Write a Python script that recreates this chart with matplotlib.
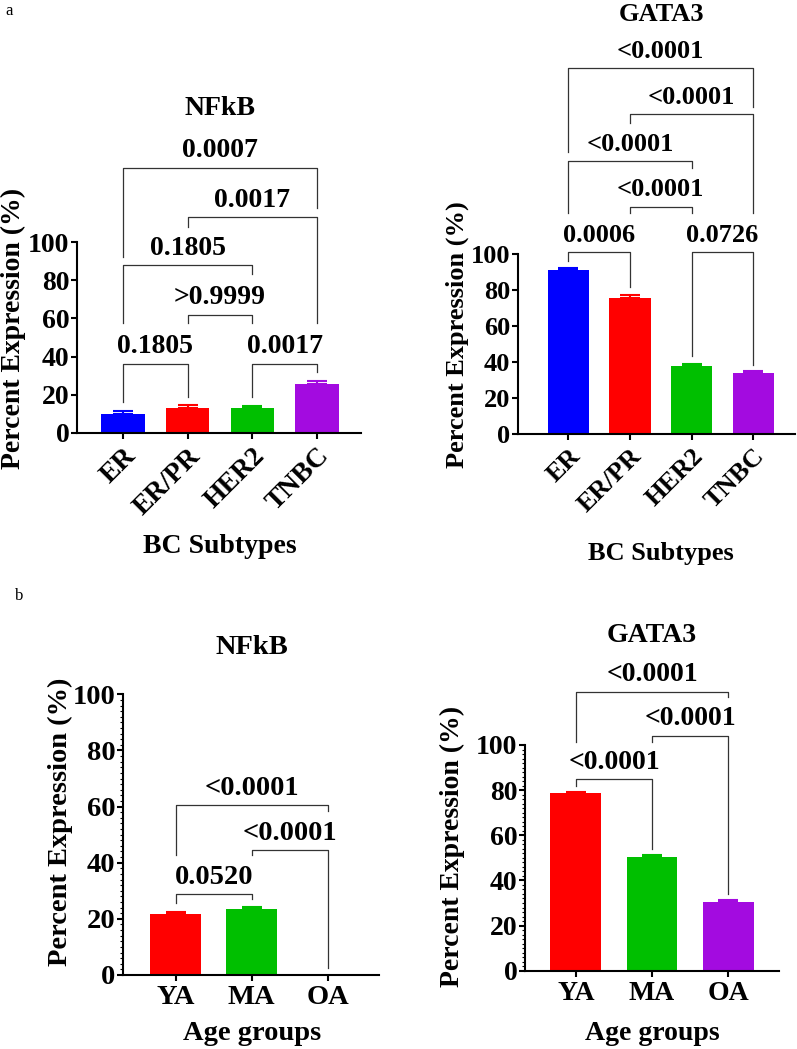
import numpy as np
import matplotlib.pyplot as plt

plt.rcParams['font.family'] = 'Liberation Serif'
plt.rcParams['font.weight'] = 'bold'

# ---- data ----
subtypes = ['ER', 'ER/PR', 'HER2', 'TNBC']
sub_colors = ['#0000FF', '#FF0000', '#00BF00', '#A30BE0']
sub_pairs = [(0, 1), (2, 3), (1, 2), (0, 2), (1, 3), (0, 3)]

nfkb_sub = [10.0, 13.0, 13.0, 25.6]
nfkb_sub_err = [1.3, 1.4, 1.3, 1.8]
nfkb_sub_p = ['0.1805', '0.0017', '>0.9999', '0.1805', '0.0017', '0.0007']

gata3_sub = [91.1, 75.8, 37.9, 33.8]
gata3_sub_err = [0.9, 1.3, 1.3, 1.5]
gata3_sub_p = ['0.0006', '0.0726', '<0.0001', '<0.0001', '<0.0001', '<0.0001']

ages = ['YA', 'MA', 'OA']
age_colors = ['#FF0000', '#00BF00', '#A30BE0']
age_pairs = [(0, 1), (1, 2), (0, 2)]

nfkb_age = [21.7, 23.5, 0.0]
nfkb_age_err = [0.6, 0.7, 0.0]
nfkb_age_p = ['0.0520', '<0.0001', '<0.0001']

gata3_age = [78.9, 50.2, 30.3]
gata3_age_err = [0.4, 1.0, 0.9]
gata3_age_p = ['<0.0001', '<0.0001', '<0.0001']

# bracket geometry (top, left foot, right foot) in data units
nfkb_sub_br = [(36.3, 16.4, 19), (36.3, 19, 32), (62, 57.7, 57.7),
               (87.8, 57.7, 83), (113, 108, 57.7), (139, 92, 118)]
gata3_sub_br = [(100.9, 96.1, 81.9), (100.9, 43.4, 38.5), (126.2, 122.6, 122.6),
                (151.6, 122.6, 147.5), (177.5, 172.8, 122.6), (203, 156.7, 181.7)]
nfkb_age_br = [(28.7, 25.5, 27), (44.5, 42.7, 2.4), (60.4, 42.7, 58.5)]
gata3_age_br = [(84.8, 81.8, 53.8), (104.1, 101.5, 33.8), (123.6, 101.5, 121.1)]

W, H = 797, 1049
fig = plt.figure(figsize=(W / 100, H / 100), dpi=100)


def make_axes(x0, x1, y0, y100):
    # pixel box -> figure fraction
    return fig.add_axes([x0 / W, 1 - y0 / H, (x1 - x0) / W, (y0 - y100) / H])


def panel(ax, cats, vals, errs, colors, pairs, pvals, brs, xlim, fs, rotate, minor):
    x = np.arange(len(cats))
    ax.bar(x, vals, width=0.67, color=colors, linewidth=0, zorder=2)
    for xi, v, e, c in zip(x, vals, errs, colors):
        if e > 0:
            ax.errorbar(xi, v, yerr=[[0], [e]], fmt='none', ecolor=c,
                        elinewidth=1.5, capsize=7, capthick=1.5, zorder=3)
    for (i, j), p, (top, lf, rf) in zip(pairs, pvals, brs):
        ax.plot([i, i, j, j], [lf, top, top, rf], color='#333333', lw=0.9,
                clip_on=False, zorder=1)
        ax.annotate(p, ((i + j) / 2, top), xytext=(0, 7.5), textcoords='offset points',
                    ha='center', va='baseline', fontsize=fs, fontweight='bold',
                    annotation_clip=False)
    ax.set_xlim(*xlim)
    ax.set_ylim(0, 100)
    ax.set_yticks([0, 20, 40, 60, 80, 100])
    ax.tick_params(axis='y', labelsize=fs, width=1.5, length=4.5, pad=1)
    ax.tick_params(axis='x', labelsize=fs, width=1.5, length=4.5, pad=3)
    if minor:
        ax.set_yticks(np.arange(0, 101, 2), minor=True)
        ax.tick_params(axis='y', which='minor', width=0.8, length=2.2)
    if rotate:
        ax.set_xticks(x, cats, rotation=45, ha='right', rotation_mode='anchor')
    else:
        ax.set_xticks(x, cats)
    for lab in ax.get_xticklabels() + ax.get_yticklabels():
        lab.set_fontweight('bold')
    for s in ['top', 'right']:
        ax.spines[s].set_visible(False)
    for s in ['left', 'bottom']:
        ax.spines[s].set_linewidth(1.5)


ax1 = make_axes(77, 361, 433, 242)
panel(ax1, subtypes, nfkb_sub, nfkb_sub_err, sub_colors, sub_pairs, nfkb_sub_p,
      nfkb_sub_br, (-0.71, 3.68), 20, True, False)

ax2 = make_axes(518, 795, 434.3, 254)
panel(ax2, subtypes, gata3_sub, gata3_sub_err, sub_colors, sub_pairs, gata3_sub_p,
      gata3_sub_br, (-0.82, 3.68), 19, True, False)

ax3 = make_axes(123, 379, 975, 694.3)
panel(ax3, ages, nfkb_age, nfkb_age_err, age_colors, age_pairs, nfkb_age_p,
      nfkb_age_br, (-0.69, 2.67), 20.5, False, True)

ax4 = make_axes(525, 779, 970.7, 745)
panel(ax4, ages, gata3_age, gata3_age_err, age_colors, age_pairs, gata3_age_p,
      gata3_age_br, (-0.67, 2.67), 20, False, True)


def ftext(x, y, s, **kw):
    fig.text(x / W, 1 - y / H, s, **kw)


# titles
ftext(220, 115, 'NFkB', ha='center', va='baseline', fontsize=20)
ftext(661, 21, 'GATA3', ha='center', va='baseline', fontsize=19)
ftext(252, 654, 'NFkB', ha='center', va='baseline', fontsize=20.5)
ftext(652, 642, 'GATA3', ha='center', va='baseline', fontsize=20)

# axis labels
ftext(13, 328, 'Percent Expression (%)', rotation=90, ha='center', va='center', fontsize=20)
ftext(457, 335, 'Percent Expression (%)', rotation=90, ha='center', va='center', fontsize=19)
ftext(60, 822, 'Percent Expression (%)', rotation=90, ha='center', va='center', fontsize=20.5)
ftext(452, 846, 'Percent Expression (%)', rotation=90, ha='center', va='center', fontsize=20)

ftext(220, 553, 'BC Subtypes', ha='center', va='baseline', fontsize=20)
ftext(661, 560, 'BC Subtypes', ha='center', va='baseline', fontsize=19)
ftext(252, 1040, 'Age groups', ha='center', va='baseline', fontsize=20.5)
ftext(652, 1040, 'Age groups', ha='center', va='baseline', fontsize=20)

# panel letters
ftext(9.5, 15, 'a', ha='center', va='baseline', fontsize=12, fontweight='normal')
ftext(19, 600, 'b', ha='center', va='baseline', fontsize=12, fontweight='normal')

fig.savefig('out.png', dpi=100)
